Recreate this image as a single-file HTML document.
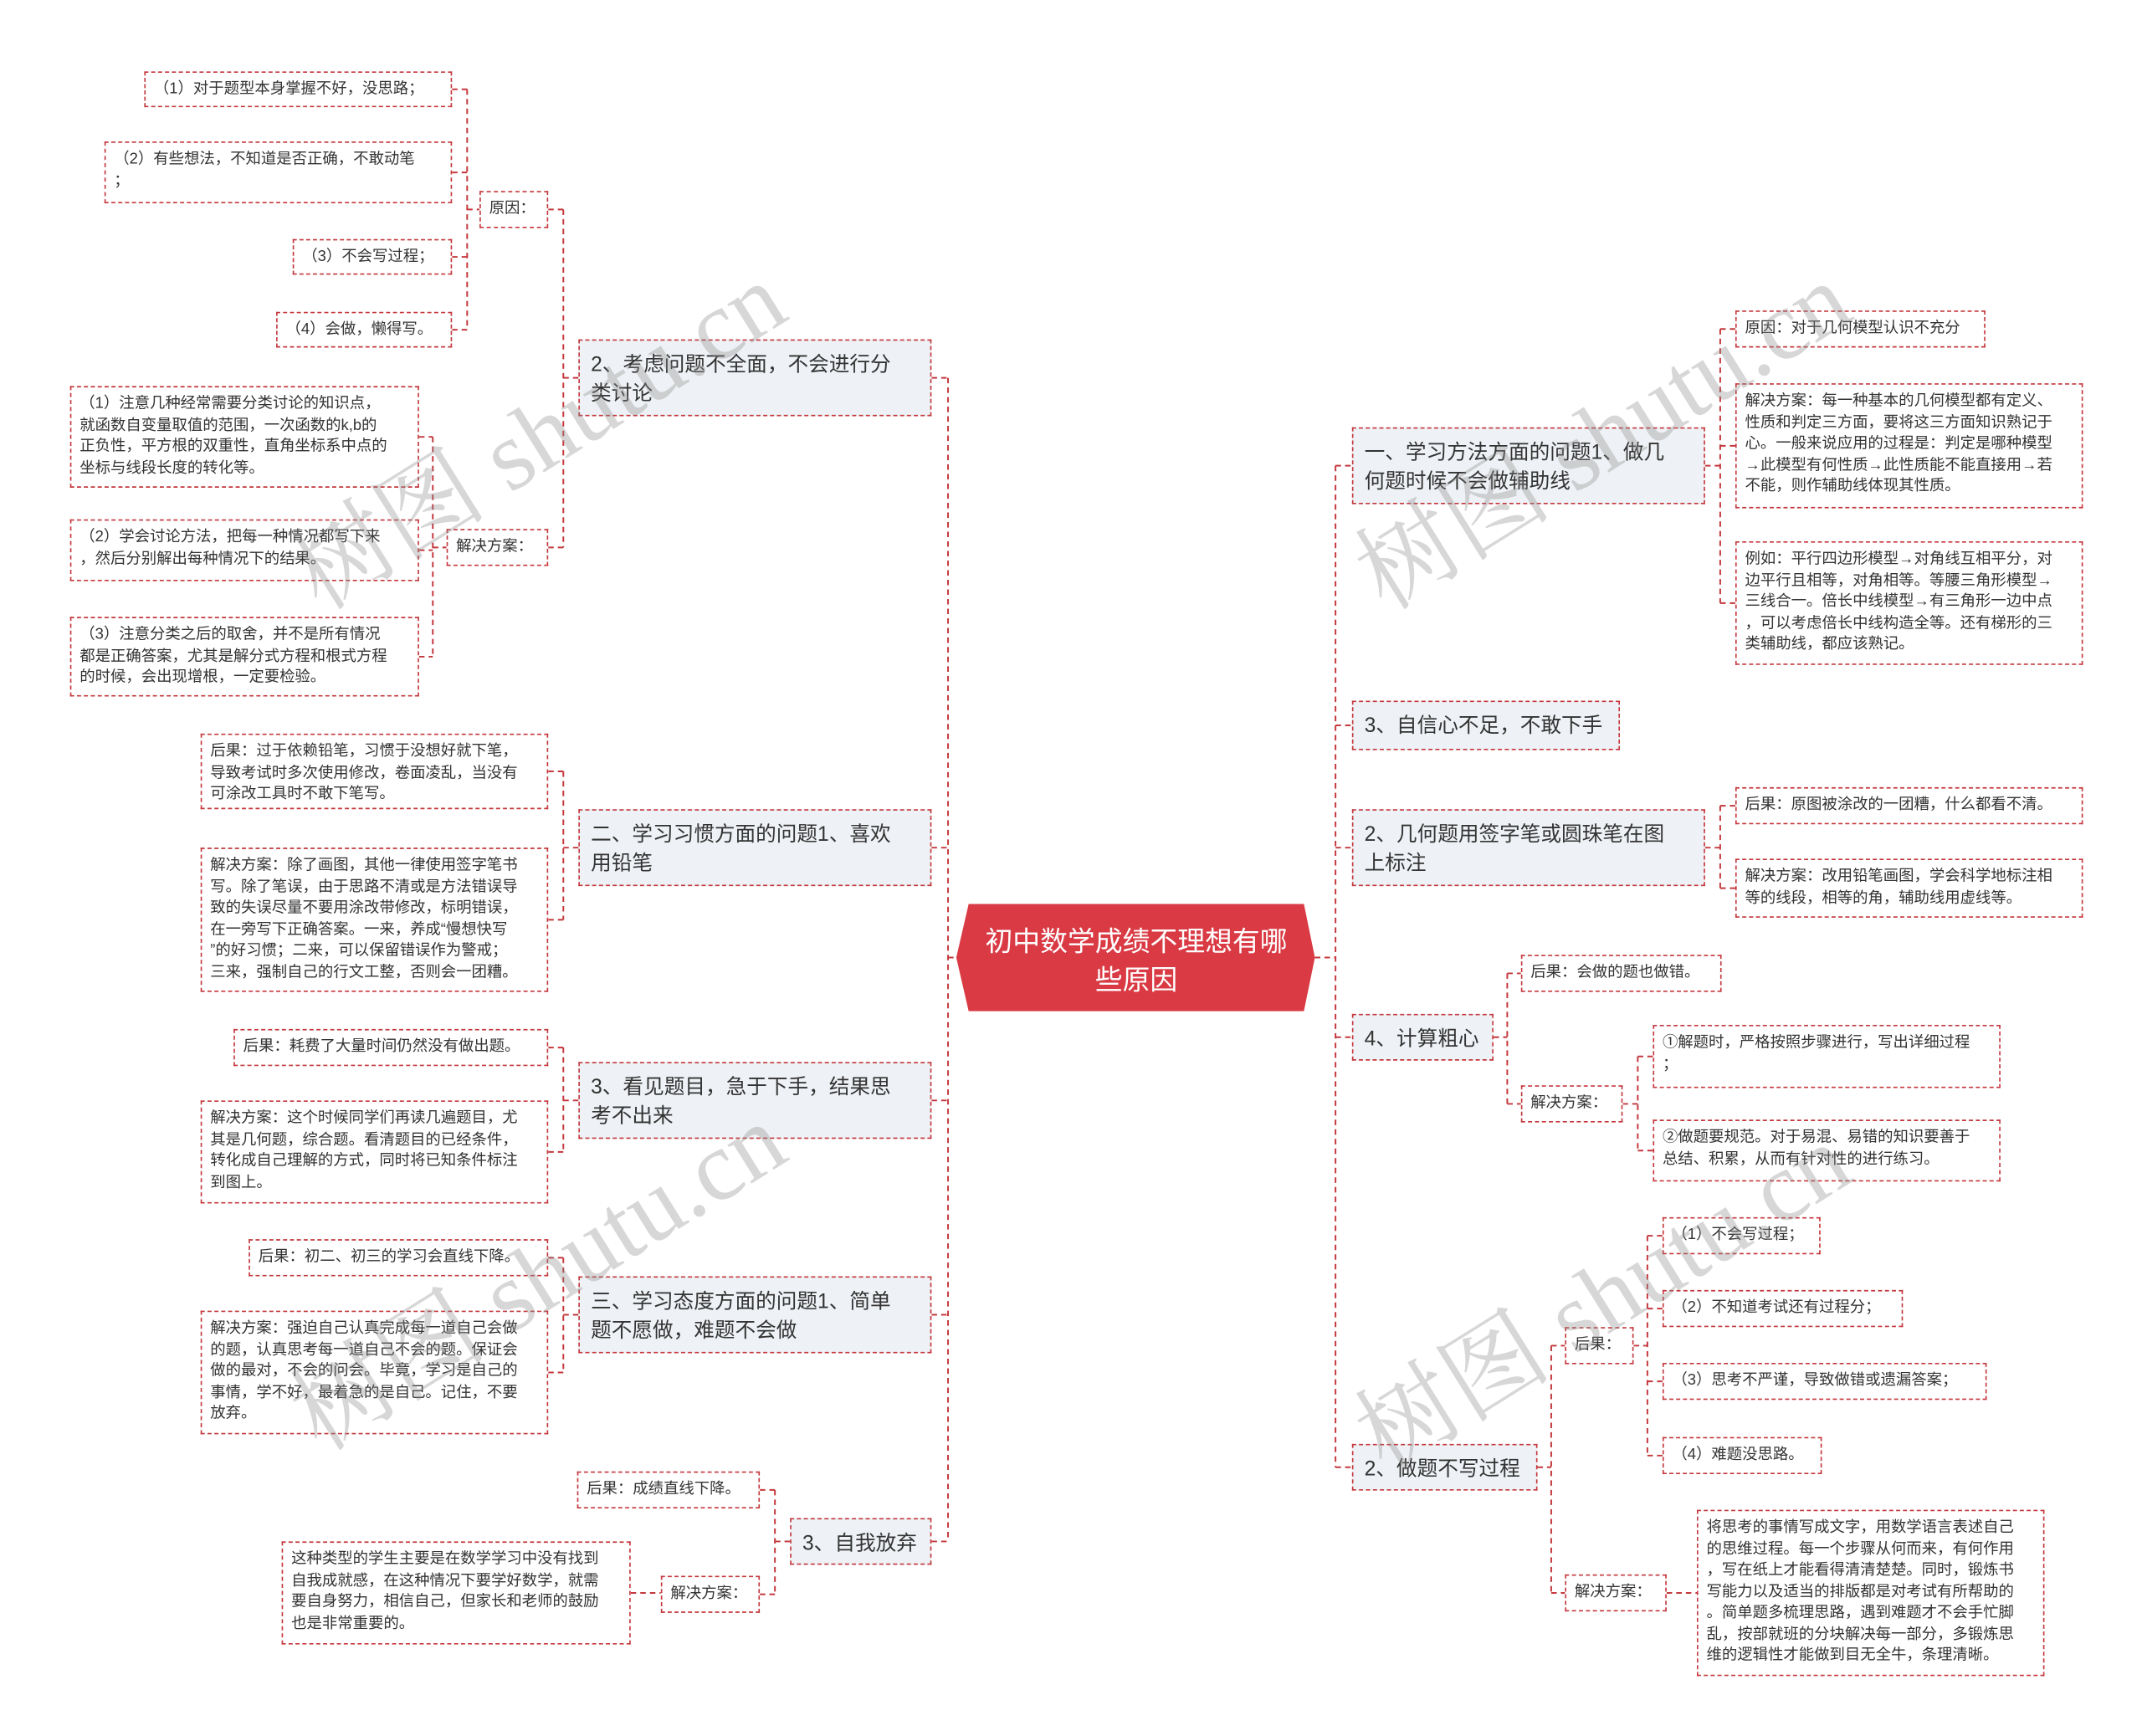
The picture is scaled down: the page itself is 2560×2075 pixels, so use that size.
<!DOCTYPE html>
<html><head><meta charset="utf-8"><style>
html,body{margin:0;padding:0;background:#fff;}
#wrap{position:relative;width:2560px;height:2075px;overflow:hidden;background:#fff;}
#c{position:absolute;left:0;top:0;width:1559px;height:1264px;transform:scale(1.6421);transform-origin:0 0;font-family:"Liberation Sans","Noto Sans CJK SC",sans-serif;color:#333;}
.n{position:absolute;box-sizing:border-box;border:1px dashed #c4383d;font-size:11.2px;line-height:15.5px;padding:5px 6px;white-space:nowrap;background:#fff;}
.b{position:absolute;box-sizing:border-box;border:1px dashed #c4383d;font-size:15px;line-height:21px;padding:7px 8px;white-space:nowrap;background:#eef1f5;}
.wm{position:absolute;font-family:"Liberation Serif","Noto Serif CJK SC",serif;font-size:72px;line-height:84px;color:rgba(140,140,140,0.35);white-space:nowrap;transform:rotate(-32deg);transform-origin:50% 50%;}
svg{position:absolute;left:0;top:0;}
</style></head><body><div id="wrap"><div id="c">
<svg width="1559" height="1264" viewBox="0 0 1559 1264">
<g fill="none" stroke="#c4383d" stroke-width="1.2" stroke-dasharray="4 3">
<path d="M329 65H340M329 125.5H340M329 187H340M329 240H340M340 65V240M340 152.5H349"/>
<path d="M305 318H315M305 400.5H315M305 478H315M315 318V478M315 398.5H325"/>
<path d="M399 152.5H410M399 398.5H410M410 152.5V398.5M410 275H421"/>
<path d="M399 561.5H410M399 669.5H410M410 561.5V669.5M410 617H421"/>
<path d="M399 762.5H410M399 838.5H410M410 762.5V838.5M410 801H421"/>
<path d="M399 915.5H410M399 999H410M410 915.5V999M410 957H421"/>
<path d="M459 1159.5H481"/>
<path d="M553 1084.5H564M553 1160.5H564M564 1084.5V1160.5M564 1122H575"/>
<path d="M678 275H690M678 617H690M678 801H690M678 957H690M678 1122H690M690 275V1122M690 697H696"/>
<path d="M957 697H972M972 339V1068M972 339H984M972 528H984M972 617H984M972 755H984M972 1068H984"/>
<path d="M1241 339H1252M1252 239.5V439M1252 239.5H1263M1252 324.5H1263M1252 439H1263"/>
<path d="M1241 617H1252M1252 586.5V646.5M1252 586.5H1263M1252 646.5H1263"/>
<path d="M1087 755H1097M1097 708.5V803.5M1097 708.5H1107M1097 803.5H1107"/>
<path d="M1181 803.5H1192M1192 769V837.5M1192 769H1203M1192 837.5H1203"/>
<path d="M1119 1068H1129M1129 979.5V1159.5M1129 979.5H1139M1129 1159.5H1139"/>
<path d="M1189 979.5H1199M1199 899.5V1059.5M1199 899.5H1210M1199 952.5H1210M1199 1005.5H1210M1199 1059.5H1210"/>
<path d="M1213 1159.5H1235"/>
</g>
<polygon points="696,697 705,658 949,658 957,697 949,736 705,736" fill="#d93a44"/>
<text x="827" y="692" fill="#fff" font-size="20" text-anchor="middle" font-family="Liberation Sans,Noto Sans CJK SC,sans-serif">初中数学成绩不理想有哪</text>
<text x="827" y="720" fill="#fff" font-size="20" text-anchor="middle" font-family="Liberation Sans,Noto Sans CJK SC,sans-serif">些原因</text>
</svg>

<div class="n" style="left:105px;top:52px;width:224px;height:26px;">（1）对于题型本身掌握不好，没思路；</div>
<div class="n" style="left:76px;top:103px;width:253px;height:45px;">（2）有些想法，不知道是否正确，不敢动笔<br>；</div>
<div class="n" style="left:213px;top:174px;width:116px;height:26px;">（3）不会写过程；</div>
<div class="n" style="left:201px;top:227px;width:128px;height:26px;">（4）会做，懒得写。</div>
<div class="n" style="left:349px;top:139px;width:50px;height:27px;">原因：</div>
<div class="n" style="left:51px;top:281px;width:254px;height:74px;">（1）注意几种经常需要分类讨论的知识点，<br>就函数自变量取值的范围，一次函数的k,b的<br>正负性，平方根的双重性，直角坐标系中点的<br>坐标与线段长度的转化等。</div>
<div class="n" style="left:51px;top:378px;width:254px;height:45px;">（2）学会讨论方法，把每一种情况都写下来<br>，然后分别解出每种情况下的结果。</div>
<div class="n" style="left:51px;top:449px;width:254px;height:58px;">（3）注意分类之后的取舍，并不是所有情况<br>都是正确答案，尤其是解分式方程和根式方程<br>的时候，会出现增根，一定要检验。</div>
<div class="n" style="left:325px;top:385px;width:74px;height:27px;">解决方案：</div>
<div class="b" style="left:421px;top:247px;width:257px;height:56px;">2、考虑问题不全面，不会进行分<br>类讨论</div>

<div class="n" style="left:146px;top:534px;width:253px;height:55px;">后果：过于依赖铅笔，习惯于没想好就下笔，<br>导致考试时多次使用修改，卷面凌乱，当没有<br>可涂改工具时不敢下笔写。</div>
<div class="n" style="left:146px;top:617px;width:253px;height:105px;">解决方案：除了画图，其他一律使用签字笔书<br>写。除了笔误，由于思路不清或是方法错误导<br>致的失误尽量不要用涂改带修改，标明错误，<br>在一旁写下正确答案。一来，养成“慢想快写<br>”的好习惯；二来，可以保留错误作为警戒；<br>三来，强制自己的行文工整，否则会一团糟。</div>
<div class="b" style="left:421px;top:589px;width:257px;height:56px;">二、学习习惯方面的问题1、喜欢<br>用铅笔</div>

<div class="n" style="left:170px;top:749px;width:229px;height:27px;">后果：耗费了大量时间仍然没有做出题。</div>
<div class="n" style="left:146px;top:801px;width:253px;height:75px;">解决方案：这个时候同学们再读几遍题目，尤<br>其是几何题，综合题。看清题目的已经条件，<br>转化成自己理解的方式，同时将已知条件标注<br>到图上。</div>
<div class="b" style="left:421px;top:773px;width:257px;height:56px;">3、看见题目，急于下手，结果思<br>考不出来</div>

<div class="n" style="left:181px;top:902px;width:218px;height:27px;">后果：初二、初三的学习会直线下降。</div>
<div class="n" style="left:146px;top:954px;width:253px;height:90px;">解决方案：强迫自己认真完成每一道自己会做<br>的题，认真思考每一道自己不会的题。保证会<br>做的最对，不会的问会。毕竟，学习是自己的<br>事情，学不好，最着急的是自己。记住，不要<br>放弃。</div>
<div class="b" style="left:421px;top:929px;width:257px;height:56px;">三、学习态度方面的问题1、简单<br>题不愿做，难题不会做</div>

<div class="n" style="left:420px;top:1071px;width:133px;height:27px;">后果：成绩直线下降。</div>
<div class="n" style="left:205px;top:1122px;width:254px;height:75px;">这种类型的学生主要是在数学学习中没有找到<br>自我成就感，在这种情况下要学好数学，就需<br>要自身努力，相信自己，但家长和老师的鼓励<br>也是非常重要的。</div>
<div class="n" style="left:481px;top:1147px;width:72px;height:27px;">解决方案：</div>
<div class="b" style="left:575px;top:1105px;width:103px;height:34px;">3、自我放弃</div>

<div class="b" style="left:984px;top:311px;width:257px;height:56px;">一、学习方法方面的问题1、做几<br>何题时候不会做辅助线</div>
<div class="n" style="left:1263px;top:226px;width:182px;height:27px;">原因：对于几何模型认识不充分</div>
<div class="n" style="left:1263px;top:279px;width:253px;height:91px;">解决方案：每一种基本的几何模型都有定义、<br>性质和判定三方面，要将这三方面知识熟记于<br>心。一般来说应用的过程是：判定是哪种模型<br>→此模型有何性质→此性质能不能直接用→若<br>不能，则作辅助线体现其性质。</div>
<div class="n" style="left:1263px;top:394px;width:253px;height:90px;">例如：平行四边形模型→对角线互相平分，对<br>边平行且相等，对角相等。等腰三角形模型→<br>三线合一。倍长中线模型→有三角形一边中点<br>，可以考虑倍长中线构造全等。还有梯形的三<br>类辅助线，都应该熟记。</div>
<div class="b" style="left:984px;top:510px;width:195px;height:36px;">3、自信心不足，不敢下手</div>
<div class="b" style="left:984px;top:589px;width:257px;height:56px;">2、几何题用签字笔或圆珠笔在图<br>上标注</div>
<div class="n" style="left:1263px;top:573px;width:253px;height:27px;">后果：原图被涂改的一团糟，什么都看不清。</div>
<div class="n" style="left:1263px;top:625px;width:253px;height:43px;">解决方案：改用铅笔画图，学会科学地标注相<br>等的线段，相等的角，辅助线用虚线等。</div>
<div class="b" style="left:984px;top:738px;width:103px;height:34px;">4、计算粗心</div>
<div class="n" style="left:1107px;top:695px;width:146px;height:27px;">后果：会做的题也做错。</div>
<div class="n" style="left:1107px;top:790px;width:74px;height:27px;">解决方案：</div>
<div class="n" style="left:1203px;top:746px;width:253px;height:46px;">①解题时，严格按照步骤进行，写出详细过程<br>；</div>
<div class="n" style="left:1203px;top:815px;width:253px;height:45px;">②做题要规范。对于易混、易错的知识要善于<br>总结、积累，从而有针对性的进行练习。</div>
<div class="b" style="left:984px;top:1051px;width:135px;height:34px;">2、做题不写过程</div>
<div class="n" style="left:1139px;top:966px;width:50px;height:27px;">后果：</div>
<div class="n" style="left:1210px;top:886px;width:115px;height:27px;">（1）不会写过程；</div>
<div class="n" style="left:1210px;top:939px;width:175px;height:27px;">（2）不知道考试还有过程分；</div>
<div class="n" style="left:1210px;top:992px;width:236px;height:27px;">（3）思考不严谨，导致做错或遗漏答案；</div>
<div class="n" style="left:1210px;top:1046px;width:116px;height:27px;">（4）难题没思路。</div>
<div class="n" style="left:1139px;top:1146px;width:74px;height:27px;">解决方案：</div>
<div class="n" style="left:1235px;top:1099px;width:253px;height:121px;">将思考的事情写成文字，用数学语言表述自己<br>的思维过程。每一个步骤从何而来，有何作用<br>，写在纸上才能看得清清楚楚。同时，锻炼书<br>写能力以及适当的排版都是对考试有所帮助的<br>。简单题多梳理思路，遇到难题才不会手忙脚<br>乱，按部就班的分块解决每一部分，多锻炼思<br>维的逻辑性才能做到目无全牛，条理清晰。</div>

<div class="wm" style="left:190px;top:276px;">树图 shutu.cn</div>
<div class="wm" style="left:190px;top:888px;">树图 shutu.cn</div>
<div class="wm" style="left:965px;top:276px;">树图 shutu.cn</div>
<div class="wm" style="left:965px;top:903px;">树图 shutu.cn</div>
</div></div></body></html>
